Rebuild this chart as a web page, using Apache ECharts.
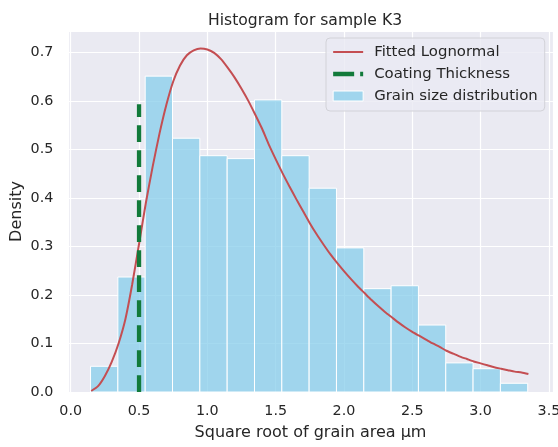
<!DOCTYPE html>
<html>
<head>
<meta charset="utf-8">
<script src="https://cdn.jsdelivr.net/npm/echarts@6/dist/echarts.min.js"></script>
<style>
html,body{margin:0;padding:0;background:#fff;}
#chart{width:558px;height:447px;}
</style>
</head>
<body>
<div id="chart"></div>
<script>
// ---- data ----
const binEdges = [0.145, 0.345, 0.545, 0.745, 0.945, 1.145, 1.345, 1.545, 1.745, 1.945, 2.145, 2.345, 2.545, 2.745, 2.945, 3.145, 3.345];
const densities = [0.053, 0.237, 0.651, 0.523, 0.487, 0.481, 0.602, 0.487, 0.420, 0.297, 0.213, 0.219, 0.138, 0.060, 0.048, 0.018];
const curveX = [0.15, 0.20, 0.25, 0.30, 0.35, 0.40, 0.45, 0.50, 0.55, 0.60, 0.65, 0.70, 0.75, 0.80, 0.85, 0.90, 0.95, 1.00, 1.05, 1.10, 1.15, 1.20, 1.25, 1.30, 1.35, 1.40, 1.45, 1.50, 1.55, 1.60, 1.65, 1.70, 1.75, 1.80, 1.85, 1.90, 1.95, 2.00, 2.05, 2.10, 2.15, 2.20, 2.25, 2.30, 2.35, 2.40, 2.45, 2.50, 2.55, 2.60, 2.65, 2.70, 2.75, 2.80, 2.85, 2.90, 2.95, 3.00, 3.05, 3.10, 3.15, 3.20, 3.25, 3.30, 3.35];
const curveY = [0.002, 0.012, 0.033, 0.062, 0.100, 0.150, 0.222, 0.305, 0.390, 0.465, 0.533, 0.592, 0.640, 0.673, 0.694, 0.704, 0.708, 0.706, 0.699, 0.686, 0.668, 0.648, 0.625, 0.600, 0.572, 0.543, 0.510, 0.480, 0.451, 0.424, 0.398, 0.373, 0.348, 0.325, 0.304, 0.284, 0.266, 0.249, 0.233, 0.218, 0.204, 0.190, 0.177, 0.165, 0.154, 0.143, 0.133, 0.124, 0.116, 0.108, 0.100, 0.093, 0.085, 0.079, 0.073, 0.068, 0.063, 0.059, 0.055, 0.051, 0.048, 0.045, 0.042, 0.040, 0.037];
const coatingX = [0.5, 0.5];
const coatingY = [0, 0.593];
const xTicks = [0, 0.5, 1.0, 1.5, 2.0, 2.5, 3.0, 3.5];
const yTicks = [0, 0.1, 0.2, 0.3, 0.4, 0.5, 0.6, 0.7];
const titleText = 'Histogram for sample K3';
const xName = 'Square root of grain area µm';
const yName = 'Density';
const seriesNames = ['Fitted Lognormal', 'Coating Thickness', 'Grain size distribution'];

// ---- build ----
const FONT = 'DejaVu Sans';
const TXT = '#262626';
const RED = '#c44e52';
const GREEN = '#127a3a';
const barData = densities.map((d, i) => [binEdges[i], binEdges[i + 1], d]);
const curveData = curveX.map((x, i) => [x, curveY[i]]);
const coatingData = coatingX.map((x, i) => [x, coatingY[i]]);
const BAR_FILL = 'rgba(135,206,235,0.75)';

const chart = echarts.init(document.getElementById('chart'), null, {renderer: 'canvas'});
chart.setOption({
  animation: false,
  backgroundColor: '#ffffff',
  textStyle: {fontFamily: FONT, color: TXT},
  title: {
    text: titleText,
    left: 203, top: 8,
    textStyle: {fontFamily: FONT, fontSize: 15.6, fontWeight: 'normal', color: TXT}
  },
  grid: {
    left: 68, right: 5, top: 31, bottom: 55,
    outerBoundsMode: 'none', containLabel: false,
    show: true, backgroundColor: '#eaeaf2', borderWidth: 0
  },
  legend: {
    orient: 'vertical',
    left: 326, top: 38,
    padding: [6, 7, 7, 5],
    itemWidth: 30, itemHeight: 10, itemGap: 6,
    backgroundColor: 'rgba(234,234,242,0.8)',
    borderColor: '#d2d2d8', borderWidth: 1, borderRadius: 4,
    textStyle: {fontFamily: FONT, fontSize: 14.9, color: TXT, lineHeight: 16, padding: [0, 0, 0, 6]},
    data: [
      {name: seriesNames[0], itemStyle: {opacity: 0}, lineStyle: {color: RED, width: 2, type: 'solid'}},
      {name: seriesNames[1], itemStyle: {opacity: 0}, lineStyle: {color: GREEN, width: 4.3, type: [21, 6], cap: 'butt'}},
      {name: seriesNames[2], icon: 'rect', itemStyle: {color: BAR_FILL, borderColor: '#ffffff', borderWidth: 1}}
    ]
  },
  xAxis: {
    type: 'value', min: -0.02, max: 3.53,
    minInterval: 0.5, maxInterval: 0.5, splitNumber: 7,
    axisLine: {show: false}, axisTick: {show: false},
    axisLabel: {
      showMinLabel: false, showMaxLabel: false, margin: 12,
      fontFamily: FONT, fontSize: 14.3, color: TXT,
      formatter: v => xTicks.some(t => Math.abs(t - v) < 1e-9) ? v.toFixed(1) : ''
    },
    splitLine: {show: true, lineStyle: {color: '#ffffff', width: 1.2}},
    name: xName, nameLocation: 'middle', nameGap: 33, nameMoveOverlap: false,
    nameTextStyle: {fontFamily: FONT, fontSize: 16, color: TXT}
  },
  yAxis: {
    type: 'value', min: 0, max: 0.744,
    minInterval: 0.1, maxInterval: 0.1, splitNumber: 7,
    axisLine: {show: false}, axisTick: {show: false},
    axisLabel: {
      showMaxLabel: false, margin: 14.7,
      fontFamily: FONT, fontSize: 14.3, color: TXT,
      formatter: v => yTicks.some(t => Math.abs(t - v) < 1e-9) ? v.toFixed(1) : ''
    },
    splitLine: {show: true, lineStyle: {color: '#ffffff', width: 1.2}},
    name: yName, nameLocation: 'middle', nameGap: 43, nameRotate: 90, nameMoveOverlap: false,
    nameTextStyle: {fontFamily: FONT, fontSize: 16, color: TXT}
  },
  series: [
    {
      name: seriesNames[2],
      type: 'custom',
      z: 2,
      itemStyle: {color: BAR_FILL},
      encode: {x: [0, 1], y: 2},
      data: barData,
      renderItem: function (params, api) {
        const x0 = api.value(0), x1 = api.value(1), d = api.value(2);
        const p0 = api.coord([x0, d]);
        const p1 = api.coord([x1, 0]);
        return {
          type: 'rect',
          shape: {x: p0[0], y: p0[1], width: p1[0] - p0[0], height: p1[1] - p0[1]},
          style: {fill: BAR_FILL, stroke: '#ffffff', lineWidth: 1}
        };
      }
    },
    {
      name: seriesNames[0],
      type: 'line',
      z: 3,
      data: curveData,
      smooth: 0.2,
      symbol: 'none',
      lineStyle: {color: RED, width: 2},
      itemStyle: {color: RED}
    },
    {
      name: seriesNames[1],
      type: 'line',
      z: 4,
      data: coatingData,
      symbol: 'none',
      lineStyle: {color: GREEN, width: 4.3, type: [16.7, 8.3], cap: 'butt'},
      itemStyle: {color: GREEN}
    }
  ]
});
</script>
</body>
</html>
